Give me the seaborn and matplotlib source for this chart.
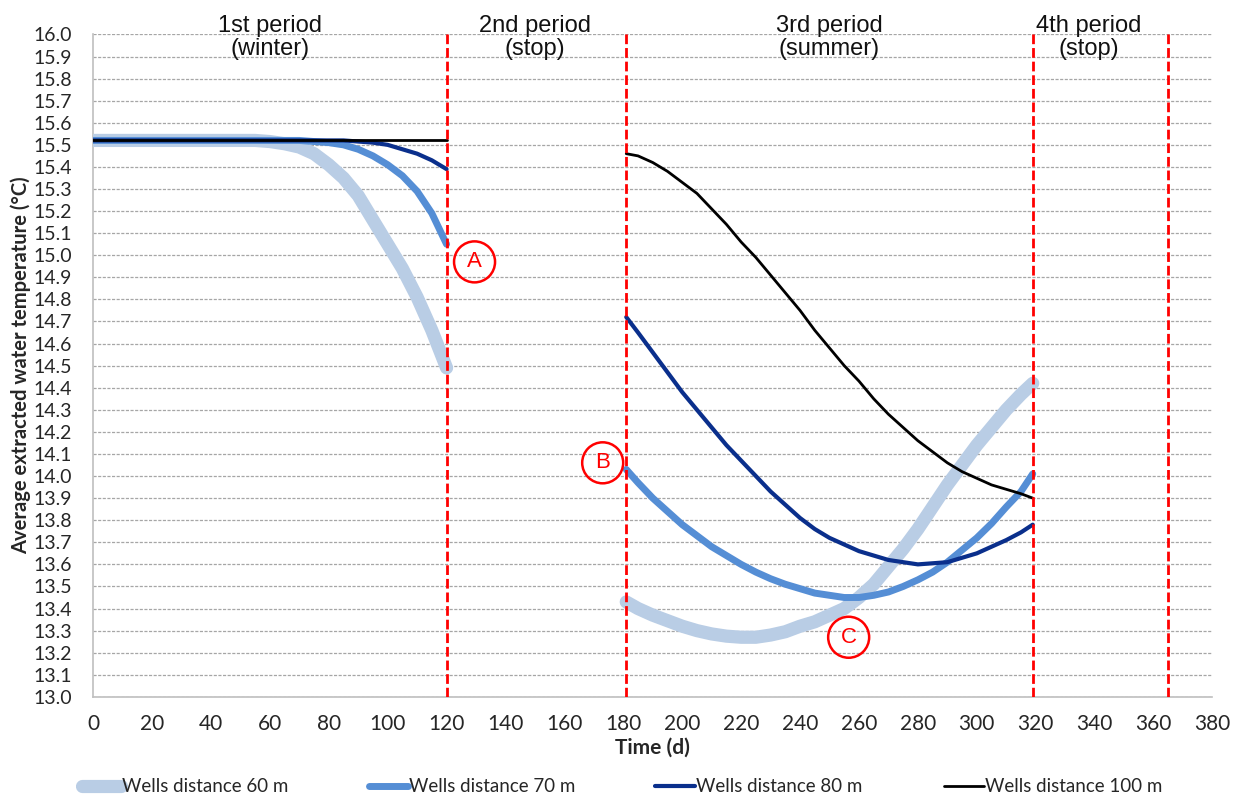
import numpy as np
import pandas as pd
import matplotlib.pyplot as plt
import seaborn as sns
from matplotlib.lines import Line2D

sns.set_style("white")
plt.rcParams["font.family"] = ["Lato", "DejaVu Sans"]

# period 1 (winter), days 0-120
t1 = [0, 10, 20, 30, 40, 50, 55, 60, 65, 70, 75, 80, 85, 90, 95, 100, 105, 110, 115, 120]
w60_p1 = [15.52, 15.52, 15.52, 15.52, 15.52, 15.52, 15.52, 15.515, 15.505, 15.49, 15.46, 15.41, 15.35,
          15.27, 15.16, 15.05, 14.94, 14.81, 14.66, 14.49]
w70_p1 = [15.52, 15.52, 15.52, 15.52, 15.52, 15.52, 15.52, 15.52, 15.52, 15.52, 15.515, 15.51, 15.50,
          15.48, 15.45, 15.41, 15.36, 15.29, 15.19, 15.05]
w80_p1 = [15.52, 15.52, 15.52, 15.52, 15.52, 15.52, 15.52, 15.52, 15.52, 15.52, 15.52, 15.52, 15.52,
          15.515, 15.51, 15.50, 15.48, 15.46, 15.43, 15.39]
w100_p1 = [15.52] * len(t1)

# period 3 (summer), days 181-319
t3 = [181, 185, 190, 195, 200, 205, 210, 215, 220, 225, 230, 235, 240, 245, 250, 255, 260, 265, 270,
      275, 280, 285, 290, 295, 300, 305, 310, 315, 319]
w60_p3 = [13.43, 13.40, 13.37, 13.345, 13.32, 13.30, 13.285, 13.275, 13.27, 13.27, 13.28, 13.295, 13.32,
          13.34, 13.37, 13.40, 13.45, 13.51, 13.59, 13.67, 13.76, 13.86, 13.96, 14.05, 14.14, 14.22,
          14.30, 14.37, 14.42]
w70_p3 = [14.03, 13.97, 13.90, 13.84, 13.78, 13.73, 13.68, 13.64, 13.60, 13.565, 13.535, 13.51, 13.49,
          13.47, 13.46, 13.45, 13.45, 13.46, 13.475, 13.50, 13.53, 13.565, 13.61, 13.665, 13.72, 13.785,
          13.86, 13.93, 14.01]
w80_p3 = [14.72, 14.65, 14.56, 14.47, 14.38, 14.30, 14.22, 14.14, 14.07, 14.00, 13.93, 13.87, 13.81,
          13.76, 13.72, 13.69, 13.66, 13.64, 13.62, 13.61, 13.60, 13.605, 13.61, 13.63, 13.65, 13.68,
          13.71, 13.745, 13.78]
w100_p3 = [15.46, 15.45, 15.42, 15.38, 15.33, 15.28, 15.21, 15.14, 15.06, 14.99, 14.91, 14.83, 14.75,
           14.66, 14.58, 14.50, 14.43, 14.35, 14.28, 14.22, 14.16, 14.11, 14.06, 14.02, 13.99, 13.96,
           13.94, 13.92, 13.90]

labels = ["Wells distance 60 m", "Wells distance 70 m", "Wells distance 80 m", "Wells distance 100 m"]
colors = ["#b9cde5", "#558ed5", "#0a2f8c", "#000000"]
widths = [9.5, 5.0, 3.0, 2.0]
legend_x = [0.066, 0.297, 0.528, 0.761]

period_x = [120, 181, 319, 365]
period_txt = ["1st period\n(winter)", "2nd period\n(stop)", "3rd period\n(summer)", "4th period\n(stop)"]
period_pos = [60, 150, 250, 338]

marks = ["A", "B", "C"]
marks_x = [129.5, 173, 256.5]
marks_y = [14.97, 14.06, 13.27]

fig, ax = plt.subplots(figsize=(12.41, 8.01), dpi=100)
fig.subplots_adjust(left=0.075, right=0.977, top=0.957, bottom=0.130)

p1 = [w60_p1, w70_p1, w80_p1, w100_p1]
p3 = [w60_p3, w70_p3, w80_p3, w100_p3]
for i in range(4):
    sns.lineplot(x=t1, y=p1[i], ax=ax, color=colors[i], lw=widths[i],
                 solid_capstyle="round", solid_joinstyle="round", zorder=3 + i)
    sns.lineplot(x=t3, y=p3[i], ax=ax, color=colors[i], lw=widths[i],
                 solid_capstyle="round", solid_joinstyle="round", zorder=3 + i)

for xv in period_x:
    ax.axvline(xv, color="#ff0000", lw=2.0, ls=(0, (3.5, 1.4)), zorder=8)

for xp, txt in zip(period_pos, period_txt):
    ax.text(xp, 1.03, txt, transform=ax.get_xaxis_transform(), ha="center", va="top",
            fontsize=17, family=["Liberation Sans", "DejaVu Sans"], color="#111111",
            linespacing=1.1, clip_on=False, zorder=9)

for m, mx, my in zip(marks, marks_x, marks_y):
    ax.text(mx, my, m, ha="center", va="center", color="#ff0000", fontsize=16,
            family=["Liberation Sans", "DejaVu Sans"], zorder=10,
            bbox=dict(boxstyle="circle,pad=0.45", fc="none", ec="#ff0000", lw=1.8))

ax.set_xlim(0, 380)
ax.set_ylim(13.0, 16.0)
ax.set_xticks(np.arange(0, 381, 20))
ax.set_yticks(np.round(np.arange(13.0, 16.01, 0.1), 1))
ax.set_yticklabels([f"{v:.1f}" for v in np.arange(13.0, 16.01, 0.1)])
ax.yaxis.grid(True, color="#a6a6a6", ls=(0, (2.5, 1.2)), lw=0.9)
ax.xaxis.grid(False)
ax.set_axisbelow(True)
for s in ["top", "right"]:
    ax.spines[s].set_visible(False)
for s in ["left", "bottom"]:
    ax.spines[s].set_color("#bfbfbf")
    ax.spines[s].set_linewidth(1.2)
ax.tick_params(axis="x", length=5, color="#bfbfbf", labelsize=15, pad=7)
ax.tick_params(axis="y", length=0, labelsize=14, pad=15)
ax.set_xlabel("Time (d)", fontsize=15, fontweight="bold", labelpad=3)
ax.set_ylabel("Average extracted water temperature (°C)", fontsize=14.5, fontweight="bold", labelpad=2)

for c, w, lab, lx in zip(colors, widths, labels, legend_x):
    fig.legend([Line2D([], [], color=c, lw=w)], [lab], loc="center left",
               bbox_to_anchor=(lx, 0.018), frameon=False, fontsize=13.5, handlelength=2.1,
               handletextpad=0.05, borderaxespad=0.0, borderpad=0.0)

fig.savefig("out.png", dpi=100)
